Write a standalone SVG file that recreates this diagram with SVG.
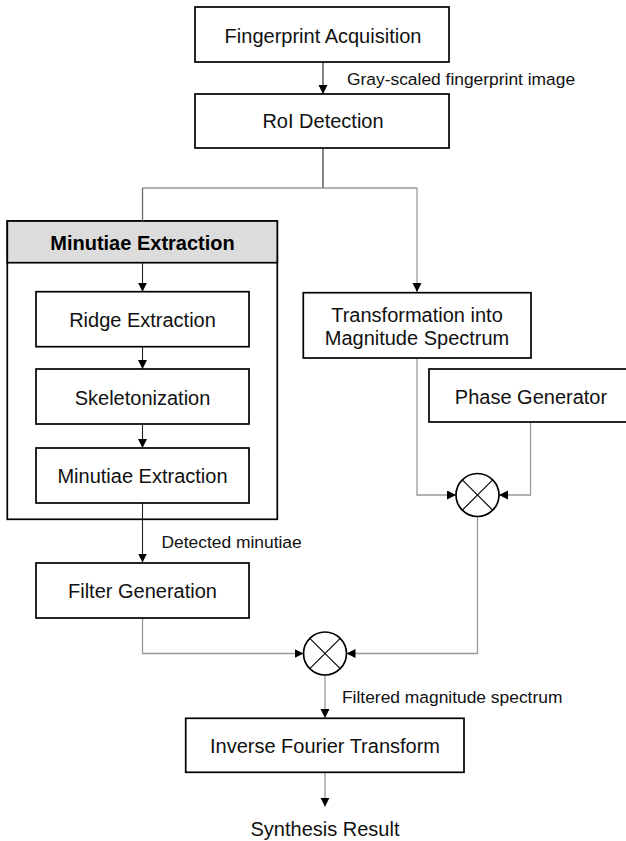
<svg xmlns="http://www.w3.org/2000/svg" width="626" height="841" viewBox="0 0 626 841">
<style>
.box{fill:#fff;stroke:#000;stroke-width:1.7}
.grp{fill:#fff;stroke:#000;stroke-width:1.7}
.hdr{fill:#dcdcdc;stroke:#000;stroke-width:1.7}
.t{font-family:"Liberation Sans",Arial,sans-serif;font-size:20px;fill:#111;text-anchor:middle}
.tb{font-family:"Liberation Sans",Arial,sans-serif;font-size:20px;font-weight:bold;fill:#000;text-anchor:middle}
.lbl{font-family:"Liberation Sans",Arial,sans-serif;font-size:17.4px;fill:#111}
.cd{fill:none;stroke:#222;stroke-width:1.1}
.cg{fill:none;stroke:#999;stroke-width:1.3}
.sum{fill:#fff;stroke:#000;stroke-width:1.7}
.x{stroke:#000;stroke-width:1.1}
</style>
<defs>
<marker id="ah" markerUnits="userSpaceOnUse" markerWidth="10" markerHeight="10" refX="9" refY="4.5" orient="auto">
<path d="M0,0 L9,4.5 L0,9 z" fill="#000"/>
</marker>
</defs>
<g id="minutiae-group">
<rect class="grp" x="7.3" y="221" width="270" height="298.3"/>
<rect class="hdr" x="7.3" y="221" width="270" height="41.7"/>
<text class="tb" x="142.5" y="250">Minutiae Extraction</text>
</g>
<g id="connectors">
<line class="cd" x1="323" y1="62" x2="323" y2="94" marker-end="url(#ah)"/>
<polyline class="cd" points="323,148 323,188"/>
<polyline class="cg" points="142.5,188 417,188"/>
<polyline class="cg" points="142.5,188 142.5,221" style="stroke:#666"/>
<line class="cg" x1="417" y1="188" x2="417" y2="292" marker-end="url(#ah)"/>
<line class="cd" x1="142.5" y1="263" x2="142.5" y2="291.7" marker-end="url(#ah)"/>
<line class="cd" x1="142.5" y1="346.7" x2="142.5" y2="369" marker-end="url(#ah)"/>
<line class="cd" x1="142.5" y1="424" x2="142.5" y2="448" marker-end="url(#ah)"/>
<line class="cd" x1="142.5" y1="503" x2="142.5" y2="562.5" marker-end="url(#ah)"/>
<polyline class="cg" points="417,358 417,495 456,495" marker-end="url(#ah)"/>
<polyline class="cg" points="530.5,422 530.5,495 499,495" marker-end="url(#ah)"/>
<polyline class="cg" points="477.5,516.5 477.5,653.5 346.5,653.5" marker-end="url(#ah)"/>
<polyline class="cg" points="142.5,618 142.5,653.5 303.5,653.5" marker-end="url(#ah)"/>
<line class="cg" x1="325" y1="675" x2="325" y2="718" marker-end="url(#ah)"/>
<line class="cg" x1="325" y1="772.5" x2="325" y2="806.7" marker-end="url(#ah)"/>
<text class="lbl" x="347" y="85">Gray-scaled fingerprint image</text>
<text class="lbl" x="161.5" y="547.7">Detected minutiae</text>
<text class="lbl" x="342" y="702.7">Filtered magnitude spectrum</text>
</g>
<g id="fingerprint-acquisition">
<rect class="box" x="195" y="7" width="254" height="55"/>
<text class="t" x="323" y="42.5">Fingerprint Acquisition</text>
</g>
<g id="roi-detection">
<rect class="box" x="195" y="94" width="254" height="54"/>
<text class="t" x="323" y="128.3">RoI Detection</text>
</g>
<g id="ridge-extraction">
<rect class="box" x="36" y="291.7" width="213" height="55"/>
<text class="t" x="142.5" y="326.7">Ridge Extraction</text>
</g>
<g id="skeletonization">
<rect class="box" x="36" y="369" width="213" height="55"/>
<text class="t" x="142.5" y="405">Skeletonization</text>
</g>
<g id="minutiae-extraction">
<rect class="box" x="36" y="448" width="213" height="55"/>
<text class="t" x="142.5" y="483.3">Minutiae Extraction</text>
</g>
<g id="filter-generation">
<rect class="box" x="36" y="563" width="213" height="55"/>
<text class="t" x="142.5" y="598">Filter Generation</text>
</g>
<g id="transformation">
<rect class="box" x="303.3" y="292.7" width="227.7" height="65.3"/>
<text class="t" x="417" y="322">Transformation into</text>
<text class="t" x="417" y="345">Magnitude Spectrum</text>
</g>
<g id="phase-generator">
<rect class="box" x="429" y="369" width="203" height="53"/>
<text class="t" x="531" y="404">Phase Generator</text>
</g>
<g id="multiplier-1">
<circle class="sum" cx="477.5" cy="495" r="21.5"/>
<line class="x" x1="462.3" y1="479.8" x2="492.7" y2="510.2"/>
<line class="x" x1="462.3" y1="510.2" x2="492.7" y2="479.8"/>
</g>
<g id="multiplier-2">
<circle class="sum" cx="325" cy="653.5" r="21.5"/>
<line class="x" x1="309.8" y1="638.3" x2="340.2" y2="668.7"/>
<line class="x" x1="309.8" y1="668.7" x2="340.2" y2="638.3"/>
</g>
<g id="inverse-fourier-transform">
<rect class="box" x="185.7" y="718.3" width="278.3" height="54"/>
<text class="t" x="325" y="753.3">Inverse Fourier Transform</text>
</g>
<g id="synthesis-result">
<text class="t" x="325" y="835.7">Synthesis Result</text>
</g>
</svg>
